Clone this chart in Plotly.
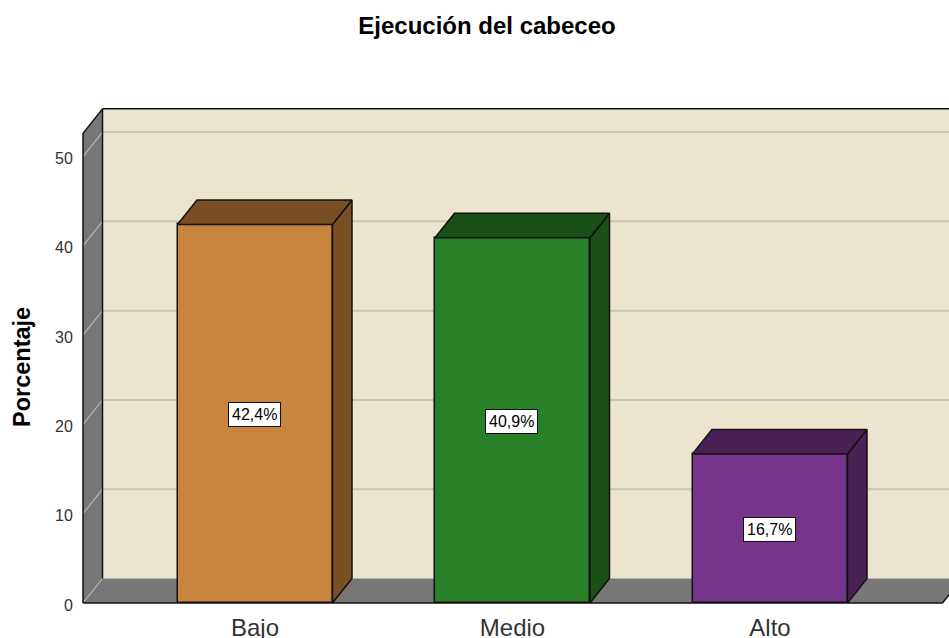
import plotly.graph_objects as go

title = "Ejecución del cabeceo"
y_title = "Porcentaje"
categories = ["Bajo", "Medio", "Alto"]
values = [42.4, 40.9, 16.7]
y_ticks = [0, 10, 20, 30, 40, 50]
front_colors = ["#C9843E", "#288128", "#75358B"]
dark_colors = ["#7B4F26", "#1A4F17", "#4A2155"]

FONT = "Liberation Sans"
PX_X = 257.5   # pixels per category
PX_Y = 8.93    # pixels per percent
DX = 19.5 / PX_X
DY = 24.5 / PX_Y
BAR_W = 155 / PX_X
X_LEFT = -172 / PX_X
X_FLOOR_END = 2 + 172.5 / PX_X
Y_TOP_FRONT = 52.6
W, H = 949, 638
PAD_L, PAD_B = 3, 2
X_MIN = X_LEFT - PAD_L / PX_X
Y_MIN = -PAD_B / PX_Y
Y_MAX = 56.0
ml = 83 - PAD_L
mb = H - 603 - PAD_B
mt = 603 + PAD_B - (Y_MAX - Y_MIN) * PX_Y
X_MAX = X_MIN + (W - ml) / PX_X

WALL = "#EBE5D0"
SIDE = "#777777"
GRID = "#C9C5B9"
GRID_SIDE = "#B5B5B5"


def poly(pts):
    return "M " + " L ".join(f"{x},{y}" for x, y in pts) + " Z"


shapes = []


def add_shape(pts, fill):
    shapes.append(dict(type="path", path=poly(pts), xref="x", yref="y", layer="below",
                       fillcolor=fill, line=dict(color=fill, width=0)))


def add_line(x0, y0, x1, y1, color, width=1.5):
    shapes.append(dict(type="line", x0=x0, y0=y0, x1=x1, y1=y1, xref="x", yref="y",
                       layer="below", line=dict(color=color, width=width)))


bx = X_LEFT + DX
far = X_MAX + 1
add_shape([(bx, DY), (bx, Y_TOP_FRONT + DY), (far, Y_TOP_FRONT + DY), (far, DY)], WALL)
add_shape([(X_LEFT, 0), (X_LEFT, Y_TOP_FRONT), (bx, Y_TOP_FRONT + DY), (bx, DY)], SIDE)
add_shape([(X_LEFT, 0), (bx, DY), (X_FLOOR_END + DX, DY), (X_FLOOR_END, 0)], SIDE)
for t in y_ticks:
    add_line(X_LEFT, t, bx, t + DY, GRID_SIDE, 1.2)
    if t > 0:
        add_line(bx, t + DY, far, t + DY, GRID, 2)
add_line(X_LEFT, 0, X_LEFT, Y_TOP_FRONT, "#111111")
add_line(X_LEFT, Y_TOP_FRONT, bx, Y_TOP_FRONT + DY, "#111111")
add_line(bx, DY, bx, Y_TOP_FRONT + DY, "#111111")
add_line(bx, Y_TOP_FRONT + DY, far, Y_TOP_FRONT + DY, "#111111")
add_line(X_LEFT, 0, X_FLOOR_END, 0, "#111111")
add_line(X_FLOOR_END, 0, X_FLOOR_END + DX, DY, "#111111")

fig = go.Figure()
positions = list(range(len(categories)))
fig.add_trace(go.Bar(x=positions, y=values, width=BAR_W,
                     marker=dict(color=front_colors, line=dict(color="#111111", width=1.5)),
                     showlegend=False, hoverinfo="skip"))

for p, v, dark in zip(positions, values, dark_colors):
    l, r = p - BAR_W / 2, p + BAR_W / 2
    fig.add_trace(go.Scatter(x=[r, r, r + DX, r + DX, r], y=[0, v, v + DY, DY, 0], mode="lines",
                             fill="toself", fillcolor=dark, line=dict(color="#111111", width=1.5),
                             showlegend=False, hoverinfo="skip"))
    fig.add_trace(go.Scatter(x=[l, r, r + DX, l + DX, l], y=[v, v, v + DY, v + DY, v], mode="lines",
                             fill="toself", fillcolor=dark, line=dict(color="#111111", width=1.5),
                             showlegend=False, hoverinfo="skip"))

annotations = [
    dict(x=p, y=v / 2, xref="x", yref="y", text=f"{v:.1f}%".replace(".", ","), showarrow=False,
         xshift=-1, yshift=-1,
         bgcolor="white", bordercolor="#111111", borderwidth=1, borderpad=3,
         font=dict(family=FONT, size=16, color="black"))
    for p, v in zip(positions, values)
]
annotations.append(dict(x=(22 - ml) / (W - ml), y=(H - mb - 367) / (H - mb - mt), xref="paper", yref="paper",
                        text=f"<b>{y_title}</b>", textangle=-90, showarrow=False,
                        xanchor="center", yanchor="middle",
                        font=dict(family=FONT, size=23.5, color="black")))

fig.update_layout(
    width=W, height=H, autosize=False,
    margin=dict(l=ml, r=0, t=mt, b=mb, pad=0, autoexpand=False),
    paper_bgcolor="white", plot_bgcolor="white",
    title=dict(text=f"<b>{title}</b>", x=487 / W, xref="container", xanchor="center",
               y=1 - 26 / H, yanchor="middle", font=dict(family=FONT, size=24, color="black")),
    xaxis=dict(range=[X_MIN, X_MAX], tickvals=positions, ticktext=categories, showgrid=False,
               zeroline=False, showline=False, ticks="outside", ticklen=1, tickcolor="rgba(0,0,0,0)",
               automargin=False, tickfont=dict(family=FONT, size=24, color="#333333")),
    yaxis=dict(range=[Y_MIN, Y_MAX], tickvals=y_ticks, showgrid=False, zeroline=False, showline=False,
               ticks="outside", ticklen=3, tickcolor="rgba(0,0,0,0)", automargin=False,
               ticklabelshift=2, tickfont=dict(family=FONT, size=16, color="#333333")),
    shapes=shapes, annotations=annotations, bargap=0,
)

fig.write_html("out.html", config=dict(displayModeBar=False),
               post_script="document.body.style.margin='0';document.documentElement.style.overflow='hidden';")
